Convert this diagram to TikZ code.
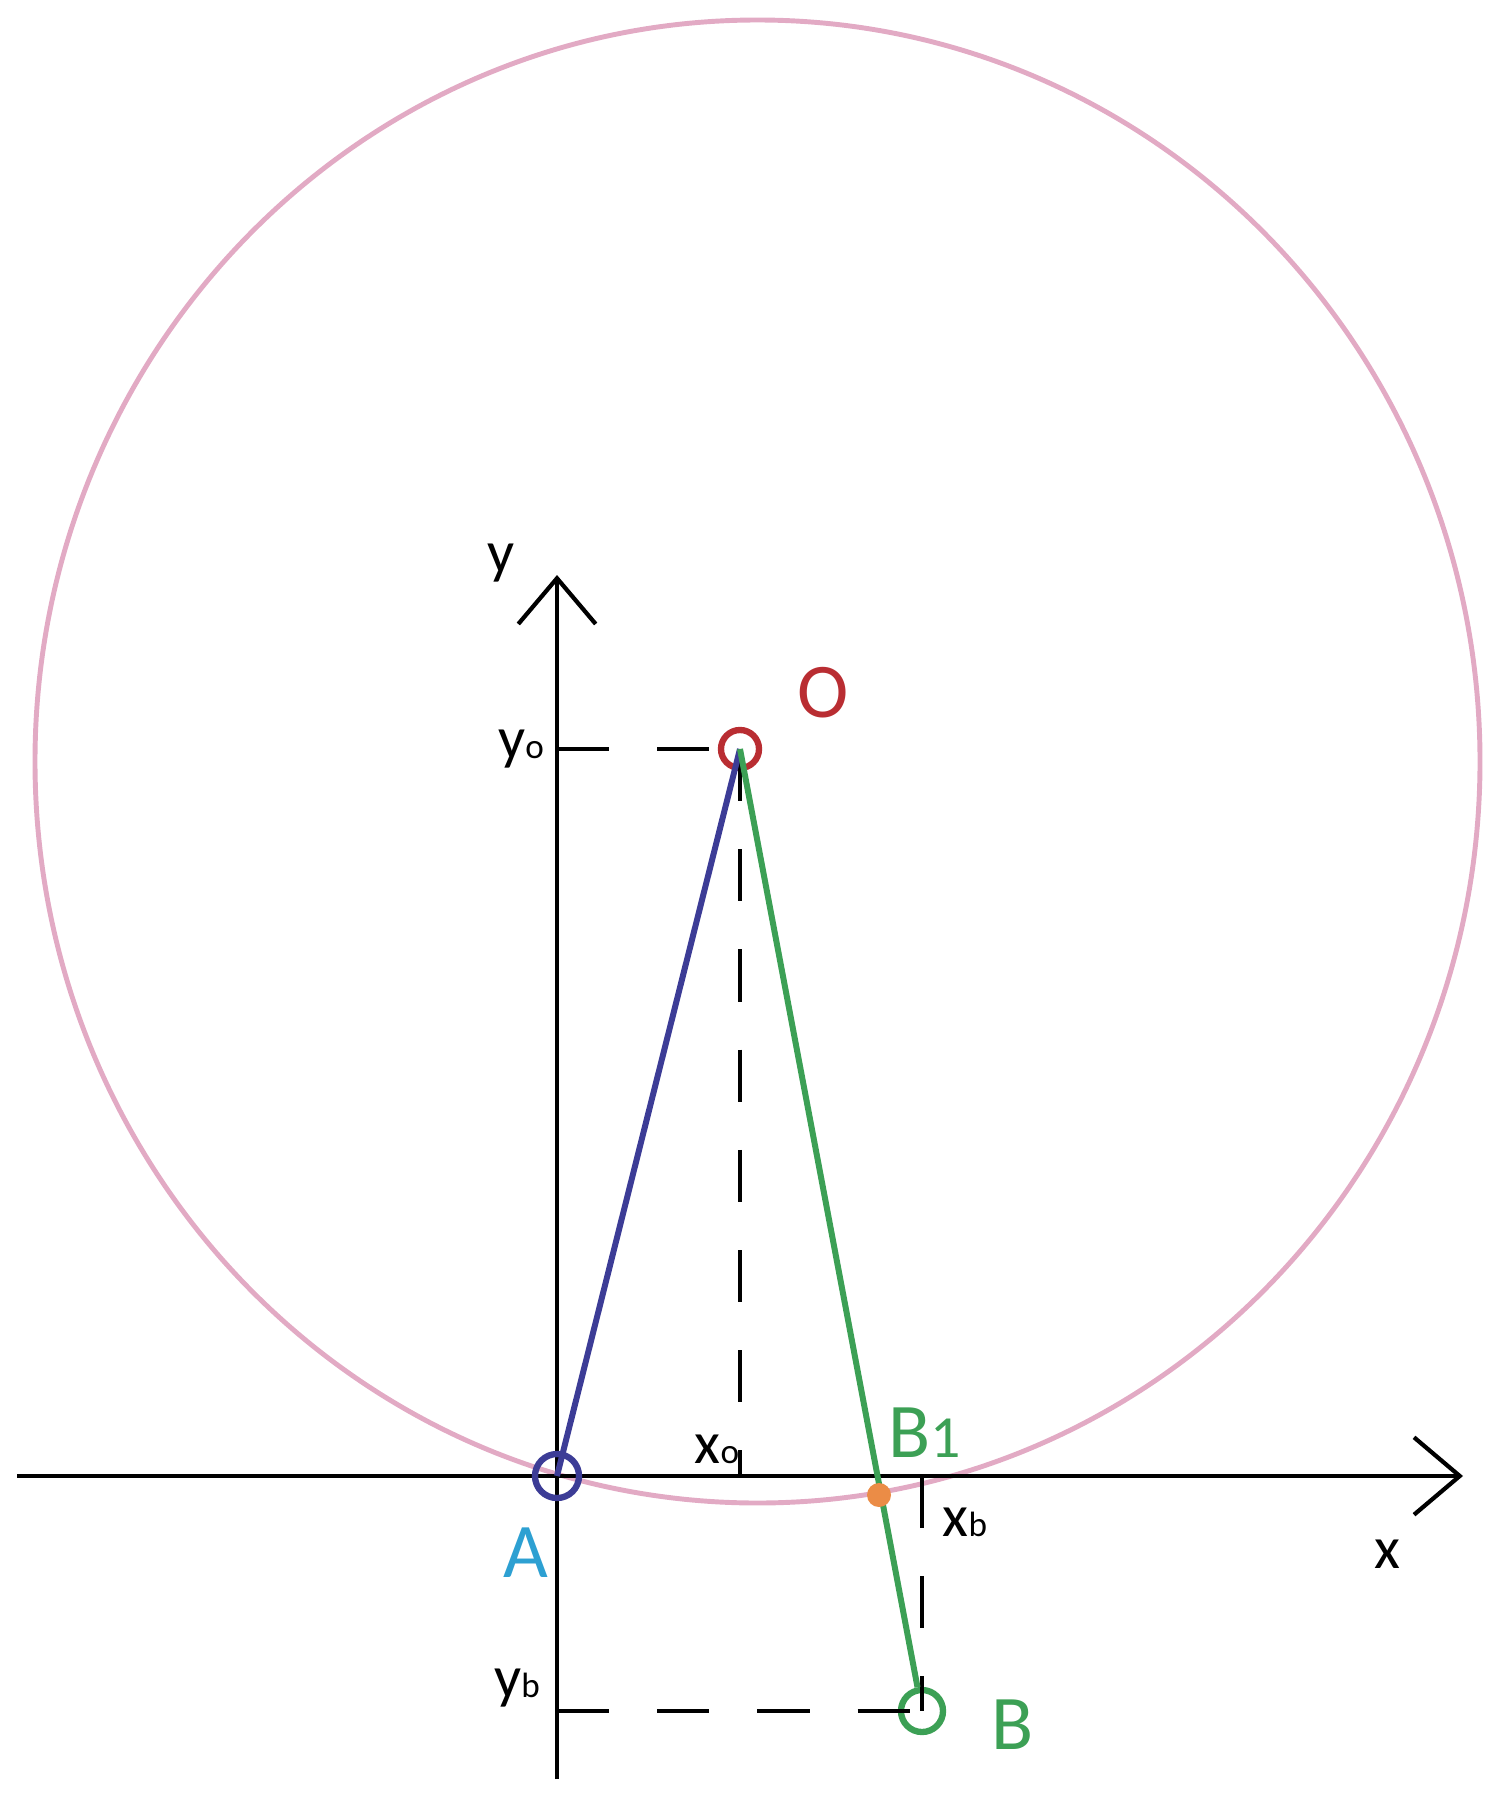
\documentclass[tikz,border=0pt]{standalone}
\usepackage{fontspec}
\setmainfont{Carlito}
\usetikzlibrary{arrows.meta}
\definecolor{ringpink}{RGB}{226,170,196}
\definecolor{ored}{RGB}{185,45,50}
\definecolor{aline}{RGB}{60,60,150}
\definecolor{bline}{RGB}{60,160,85}
\definecolor{alabel}{RGB}{45,160,210}
\definecolor{bdot}{RGB}{235,140,70}
\newcommand{\idx}[1]{{\fontsize{10pt}{10pt}\selectfont #1}}

\begin{document}
\begin{tikzpicture}[x=0.01cm,y=-0.01cm,
  axis/.style={line width=1.2pt,-{Straight Barb[length=13pt,width=22pt]}},
  guide/.style={line width=1.2pt,dash pattern=on 14.8pt off 13.7pt},
  ptring/.style={circle,draw,line width=1.8pt,inner sep=0pt},
  lbl/.style={inner sep=0pt,font=\fontsize{17pt}{17pt}\selectfont},
  big/.style={inner sep=0pt,font=\fontsize{22pt}{22pt}\selectfont}]
\useasboundingbox (0,0) rectangle (1508,1794);
% the circle round O
\draw[ringpink,line width=1.4pt] (757.5,761.5) ellipse [x radius=722.5,y radius=741.5];
% axes
\coordinate (xl) at (17,1476);
\coordinate (xr) at (1463,1476);
\coordinate (ybot) at (557,1779);
\coordinate (ytop) at (557,575);
\draw[axis] (xl) -- (xr);
\draw[axis] (ybot) -- (ytop);
% points
\node[ptring,ored,minimum size=0.38cm] (O) at (740,749) {};
\node[ptring,aline,minimum size=0.44cm] (A) at (557,1476) {};
\node[ptring,bline,minimum size=0.42cm] (B) at (922,1711) {};
\coordinate (yo) at (A |- O);
\coordinate (xo) at (O |- A);
\coordinate (yb) at (A |- B);
\coordinate (xb) at (B |- A);
% projections
\draw[guide] (yo) -- (O);
\draw[guide] (O.center) -- (xo);
\draw[line width=1.2pt] (xo) -- ++(0,-26);
\draw[guide] (xb) -- (B.center);
\draw[guide] (yb) -- (B.center);
% segments
\draw[aline,line width=1.7pt] (A.center) -- (O.center);
\draw[bline,line width=1.7pt] (O.center) -- (B);
\node[circle,fill=bdot,inner sep=0pt,minimum size=0.24cm] (B1) at (879,1495) {};
% labels
\node[lbl] (ylab) at (501,563) {y};
\node[lbl] (xlab) at (1387,1554) {x};
\node[lbl] (yolab) at (521,749) {y\idx{o}};
\node[lbl] (xolab) at (717,1449) {x\idx{o}};
\node[lbl] (yblab) at (517,1688) {y\idx{b}};
\node[lbl] (xblab) at (965,1522) {x\idx{b}};
\node[big,ored] (Olab) at (823,693) {O};
\node[big,alabel] (Alab) at (526,1553) {A};
\node[big,bline] (B1lab) at (925,1433) {B{\fontsize{17pt}{17pt}\selectfont 1}};
\node[big,bline] (Blab) at (1013,1725) {B};
\end{tikzpicture}
\end{document}
